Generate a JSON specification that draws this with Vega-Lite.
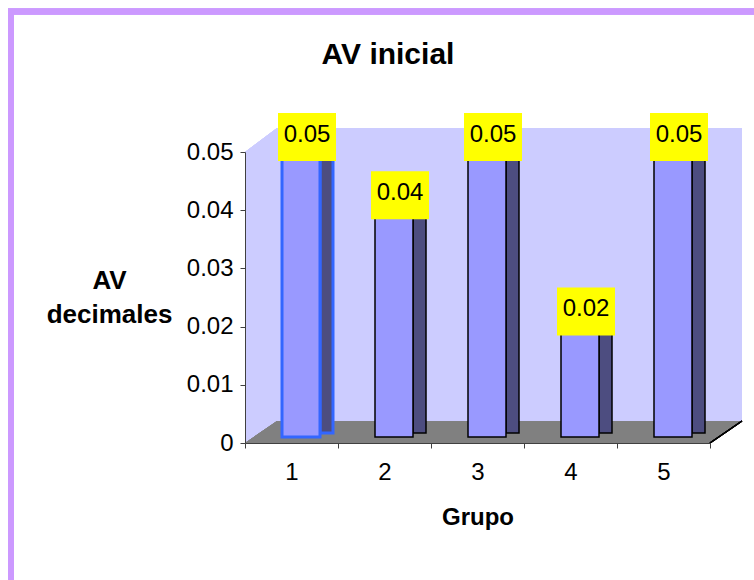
{
  "$schema": "https://vega.github.io/schema/vega-lite/v6.json",
  "width": 465,
  "height": 291,
  "autosize": {"type": "none"},
  "padding": {"left": 245, "top": 152, "right": 44, "bottom": 137},
  "background": "white",
  "config": {"font": "Liberation Sans", "view": {"stroke": null}},
  "title": {"text": "AV inicial", "fontSize": 30, "fontWeight": "bold", "color": "black", "anchor": "middle", "frame": "group", "baseline": "alphabetic", "dx": -89.5, "dy": 94, "offset": 0},
  "data": {"values": [
    {"Grupo": "1", "AV": 0.05},
    {"Grupo": "2", "AV": 0.04},
    {"Grupo": "3", "AV": 0.05},
    {"Grupo": "4", "AV": 0.02},
    {"Grupo": "5", "AV": 0.05}
  ]},
  "encoding": {
    "x": {"field": "Grupo", "type": "ordinal", "scale": {"paddingInner": 0, "paddingOuter": 0},
      "axis": {"title": "Grupo", "titleFontSize": 24, "titleFontWeight": "bold", "titleColor": "black", "titleY": 81, "titleBaseline": "alphabetic",
        "labelAngle": 0, "labelFontSize": 24, "labelColor": "black", "labelPadding": 12, "tickBand": "extent", "tickSize": 5,
        "domainColor": "#404040", "tickColor": "#404040", "zindex": 1}},
    "y": {"field": "AV", "type": "quantitative", "scale": {"domain": [0, 0.05], "nice": false},
      "axis": {"title": ["AV", "decimales"], "titleFontSize": 26, "titleFontWeight": "bold", "titleColor": "black", "titleAngle": 0,
        "titleAlign": "center", "titleBaseline": "alphabetic", "titleX": -136, "titleY": 136, "titleLineHeight": 34,
        "values": [0, 0.01, 0.02, 0.03, 0.04, 0.05], "format": ".2~f", "labelFontSize": 24, "labelColor": "black", "labelPadding": 7,
        "tickSize": 5, "grid": false, "domainColor": "#404040", "tickColor": "#404040", "zindex": 1}}
  },
  "layer": [
    {
      "mark": {"type": "point", "shape": "M-1,-0.796L1,-0.796L1,0.796L-1,0.796Z", "size": 622521, "filled": false, "stroke": "#CC99FF", "strokeWidth": 6, "opacity": 1, "xOffset": -72, "yOffset": -1},
      "encoding": {"x": {"datum": "3", "type": "ordinal"}, "y": {"datum": 0.02, "type": "quantitative"}}
    },
    {
      "mark": {"type": "point", "shape": "M-1,-0.5372L-0.8712,-0.6338L1,-0.6338L1,0.5453L0.8712,0.6338L-1,0.6338Z", "size": 247009, "filled": true, "fill": "#CCCCFF", "strokeWidth": 0, "opacity": 1, "xOffset": 16, "yOffset": -12},
      "encoding": {"x": {"datum": "3", "type": "ordinal"}, "y": {"datum": 0.025, "type": "quantitative"}}
    },
    {
      "mark": {"type": "point", "shape": "M-1,0.0443L0.8712,0.0443L1,-0.0443L-0.8712,-0.0443Z", "size": 247009, "filled": true, "fill": "#808080", "strokeWidth": 0, "opacity": 1, "xOffset": 16, "yOffset": -11},
      "encoding": {"x": {"datum": "3", "type": "ordinal"}, "y": {"datum": 0, "type": "quantitative"}}
    },
    {
      "mark": {"type": "point", "shape": "M0.8712,0.0443L1,-0.0443", "size": 247009, "filled": false, "stroke": "black", "strokeWidth": 1.2, "opacity": 1, "xOffset": 16, "yOffset": -11},
      "encoding": {"x": {"datum": "3", "type": "ordinal"}, "y": {"datum": 0, "type": "quantitative"}}
    },
    {
      "mark": {"type": "bar", "width": 13, "xOffset": 35, "yOffset": -10, "fill": "#4D4D80"},
      "encoding": {
        "stroke": {"condition": {"test": "datum.Grupo === '1'", "value": "#3366FF"}, "value": "black"},
        "strokeWidth": {"condition": {"test": "datum.Grupo === '1'", "value": 3}, "value": 1.5}
      }
    },
    {
      "mark": {"type": "bar", "width": 38, "xOffset": 9.5, "yOffset": -6, "fill": "#9999FF"},
      "encoding": {
        "stroke": {"condition": {"test": "datum.Grupo === '1'", "value": "#3366FF"}, "value": "black"},
        "strokeWidth": {"condition": {"test": "datum.Grupo === '1'", "value": 3}, "value": 1.5}
      }
    },
    {
      "mark": {"type": "point", "shape": "M-1,-0.8276L1,-0.8276L1,0.8276L-1,0.8276Z", "size": 3364, "filled": true, "fill": "#FFFF00", "strokeWidth": 0, "opacity": 1, "xOffset": 15.5, "yOffset": -15}
    },
    {
      "mark": {"type": "text", "fontSize": 24, "color": "black", "align": "center", "baseline": "middle", "xOffset": 15.5, "yOffset": -17.5},
      "encoding": {"text": {"field": "AV", "type": "quantitative", "format": ".2f"}}
    }
  ]
}
